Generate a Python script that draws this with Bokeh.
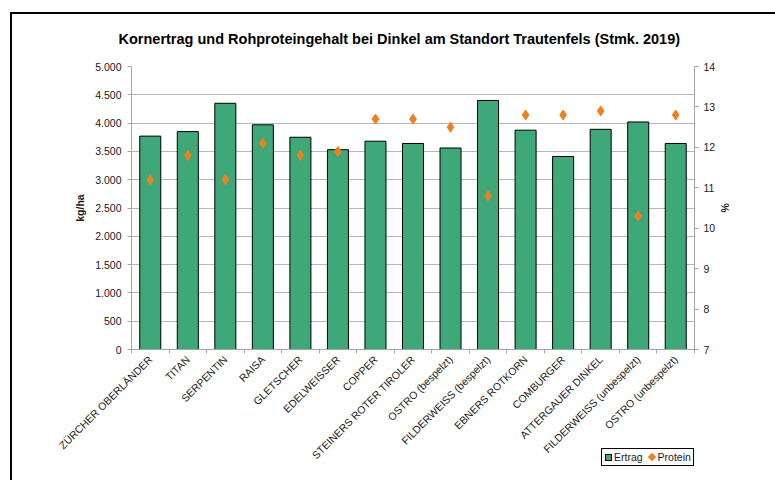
import math
from bokeh.plotting import figure
from bokeh.models import (Range1d, LinearAxis, FixedTicker, ColumnDataSource, Title,
                          Legend, LegendItem)
from bokeh.embed import file_html
from bokeh.resources import INLINE

categories = ["ZÜRCHER OBERLÄNDER", "TITAN", "SERPENTIN", "RAISA", "GLETSCHER",
              "EDELWEISSER", "COPPER", "STEINERS ROTER TIROLER", "OSTRO (bespelzt)",
              "FILDERWEISS (bespelzt)", "EBNERS ROTKORN", "COMBURGER",
              "ATTERGAUER DINKEL", "FILDERWEISS (unbespelzt)", "OSTRO (unbespelzt)"]
ertrag = [3770, 3850, 4350, 3970, 3750, 3530, 3680, 3640, 3560, 4400, 3875, 3410, 3890, 4020, 3640]
protein = [11.2, 11.8, 11.2, 12.1, 11.8, 11.9, 12.7, 12.7, 12.5, 10.8, 12.8, 12.8, 12.9, 10.3, 12.8]
left_ticks = [0, 500, 1000, 1500, 2000, 2500, 3000, 3500, 4000, 4500, 5000]
left_tick_labels = ["0", "500", "1.000", "1.500", "2.000", "2.500", "3.000", "3.500",
                    "4.000", "4.500", "5.000"]
right_ticks = [7, 8, 9, 10, 11, 12, 13, 14]
series_names = ["Ertrag", "Protein"]
title_text = "Kornertrag und Rohproteingehalt bei Dinkel am Standort Trautenfels (Stmk. 2019)"

FONT = "Liberation Sans"
GREEN = "#3fa878"
ORANGE = "#f07f1e"
AXIS_C = "#a6a6a6"
GRID_C = "#b8b8b8"
TXT_C = "#1a1a1a"

n = len(categories)
xs = list(range(n))
src = ColumnDataSource(dict(x=xs, ertrag=ertrag, protein=protein, name=categories))

p = figure(width=775, height=480, output_backend="svg", toolbar_location=None,
           x_range=Range1d(-0.5, n - 0.5), y_range=Range1d(0, 5000),
           min_border_left=131, min_border_right=81, min_border_top=66, min_border_bottom=131,
           background_fill_color="white", border_fill_color="white")
p.outline_line_color = None
p.extra_y_ranges = {"prot": Range1d(7, 14)}

p.title = Title(text=title_text, align="left", text_font=FONT, text_font_style="bold",
                text_font_size="14.5px", text_color="black", standoff=40, offset=-13)

bars = p.vbar(x="x", top="ertrag", width=0.56, source=src, fill_color=GREEN,
              line_color="black", line_width=1)
pts = p.scatter(x="x", y="protein", source=src, y_range_name="prot", marker="diamond",
                size=10, fill_color=ORANGE, line_color=ORANGE)

# x axis
xa = p.xaxis[0]
xa.ticker = FixedTicker(ticks=xs, minor_ticks=[i - 0.5 for i in range(n + 1)])
xa.major_label_overrides = {i: c for i, c in zip(xs, categories)}
xa.major_label_orientation = math.pi / 4
xa.major_tick_out = 0
xa.major_tick_in = 0
xa.minor_tick_out = 4
xa.minor_tick_in = 0
xa.minor_tick_line_color = AXIS_C
xa.axis_line_color = AXIS_C
xa.major_label_standoff = 4
xa.major_label_text_font = FONT
xa.major_label_text_font_size = "10.5px"
xa.major_label_text_color = TXT_C

# left axis
ya = p.yaxis[0]
ya.ticker = FixedTicker(ticks=left_ticks)
ya.major_label_overrides = {t: l for t, l in zip(left_ticks, left_tick_labels)}
ya.axis_label = "kg/ha"
ya.axis_label_text_font = FONT
ya.axis_label_text_font_style = "bold"
ya.axis_label_text_font_size = "10.5px"
ya.axis_label_text_color = TXT_C
ya.axis_label_standoff = 6
ya.major_tick_out = 4
ya.major_tick_in = 0
ya.minor_tick_line_color = None
ya.axis_line_color = AXIS_C
ya.major_tick_line_color = AXIS_C
ya.major_label_standoff = 6
ya.major_label_text_font = FONT
ya.major_label_text_font_size = "10.5px"
ya.major_label_text_color = TXT_C

# right axis
ra = LinearAxis(y_range_name="prot", ticker=FixedTicker(ticks=right_ticks), axis_label="%")
ra.axis_label_text_font = FONT
ra.axis_label_text_font_style = "bold"
ra.axis_label_text_font_size = "10.5px"
ra.axis_label_text_color = TXT_C
ra.axis_label_standoff = 1
ra.major_tick_out = 4
ra.major_tick_in = 0
ra.minor_tick_line_color = None
ra.axis_line_color = AXIS_C
ra.major_tick_line_color = AXIS_C
ra.major_label_standoff = 5
ra.major_label_text_font = FONT
ra.major_label_text_font_size = "10.5px"
ra.major_label_text_color = TXT_C
p.add_layout(ra, "right")

p.xgrid.visible = False
p.ygrid.grid_line_color = GRID_C
p.ygrid.grid_line_width = 1

# Legend (below the plot area, bottom right) and outer chart border as DOM elements
try:
    from bokeh.models.dom import Div as DomDiv, Span as DomSpan
    top_bar = DomDiv(style={"position": "absolute", "left": "10px", "top": "12px",
                            "width": "765px", "height": "2px", "background": "black",
                            "pointer-events": "none"})
    left_bar = DomDiv(style={"position": "absolute", "left": "10px", "top": "12px",
                             "width": "2px", "height": "468px", "background": "black",
                             "pointer-events": "none"})
    sq = DomSpan(style={"display": "inline-block", "width": "7px", "height": "7px",
                        "background": GREEN, "border": "1px solid black",
                        "margin-right": "2px"})
    dia = DomSpan(style={"display": "inline-block", "width": "6px", "height": "6px",
                         "background": ORANGE, "transform": "rotate(45deg)",
                         "margin-left": "6px", "margin-right": "3px"})
    legend_el = DomDiv(style={"position": "absolute", "left": "601px", "top": "448px",
                              "width": "93px", "height": "18px", "box-sizing": "border-box",
                              "border": "1px solid black", "background": "white",
                              "display": "flex", "align-items": "center",
                              "padding-left": "3px", "font-family": FONT,
                              "font-size": "10.5px", "color": TXT_C,
                              "white-space": "nowrap"},
                       children=[sq, DomSpan(children=[series_names[0]]), dia,
                                 DomSpan(children=[series_names[1]])])
    p.elements = [top_bar, left_bar, legend_el]
except Exception:
    p.add_layout(Legend(items=[LegendItem(label=series_names[0], renderers=[bars]),
                               LegendItem(label=series_names[1], renderers=[pts])],
                        location="top_right", orientation="horizontal"), "center")

open("out.html", "w").write(file_html(p, INLINE))
